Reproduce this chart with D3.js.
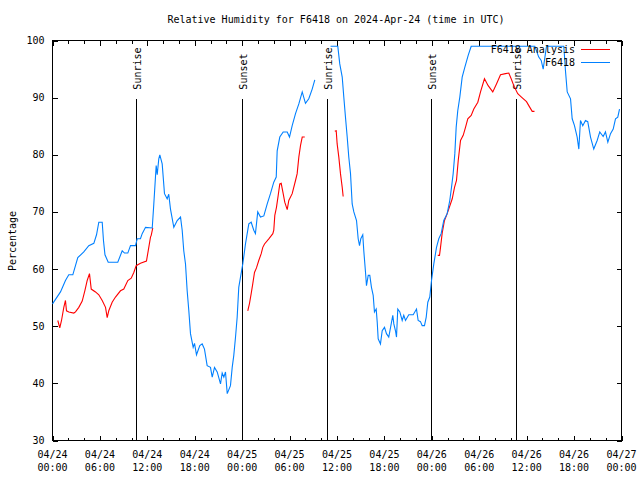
<!DOCTYPE html>
<html><head><meta charset="utf-8">
<script src="https://cdn.jsdelivr.net/npm/d3@7"></script>
<style>
body{margin:0;background:#fff}
svg text{font-family:"DejaVu Sans Mono",monospace;font-size:10px;fill:#000}
</style></head>
<body><svg id="c" width="640" height="480"></svg>
<script>
// ---- data (hours after 2024-04-24 00:00 UTC) ----
const titleText = "Relative Humidity for F6418 on 2024-Apr-24 (time in UTC)";
const yLabel = "Percentage";
const seriesNames = ["F6418 Analysis", "F6418"];
const yTicks = [30, 40, 50, 60, 70, 80, 90, 100];

const obsHours = [0.0,1.01,1.64,2.06,2.57,3.2,3.96,4.59,5.23,5.57,5.86,6.29,6.45,6.64,7.05,8.26,8.82,9.11,9.53,9.87,10.5,10.72,11.13,11.35,11.77,12.62,12.82,13.03,13.12,13.25,13.45,13.58,13.88,14.17,14.51,14.71,14.93,15.35,15.78,16.2,16.41,16.61,16.83,17.04,17.25,17.46,17.8,17.97,18.22,18.64,18.94,19.23,19.57,19.99,20.21,20.5,20.84,21.26,21.47,21.68,21.89,22.11,22.52,22.74,22.94,23.16,23.37,23.57,23.79,24.08,24.42,24.84,25.14,25.47,25.68,25.97,26.32,26.74,27.17,27.58,28.0,28.31,28.43,28.76,29.19,29.7,29.99,30.33,30.75,31.17,31.6,32.01,32.43,32.86,33.19,
  34.2,
  35.18,36.1,36.35,36.66,36.86,37.07,37.29,37.49,37.71,37.92,38.13,38.47,38.68,38.85,39.01,39.26,39.39,39.61,39.73,39.95,40.15,40.36,40.58,40.74,40.96,41.09,41.21,41.5,41.72,42.01,42.26,42.55,42.86,43.06,43.19,43.4,43.53,43.69,43.95,44.25,44.45,44.67,45.08,45.64,46.06,46.27,46.56,46.78,47.07,47.29,47.49,47.74,47.96,48.25,48.59,48.88,49.18,49.51,49.94,50.27,50.49,50.7,50.91,51.08,51.28,51.54,51.84,52.17,52.6,52.98,61.03,61.53,61.84,62.09,62.51,64.7,64.91,65.13,65.55,65.76,66.05,66.39,66.6,66.81,67.1,67.44,67.73,68.08,68.49,68.92,69.25,69.68,69.97,70.27,70.61,70.95,71.24,71.53,71.75];
const obsValues = [53.9,56,58,59,59,62,63,64.1,64.5,66,68.2,68.2,65,62.5,61.2,61.2,63.2,62.8,62.8,64.1,64.1,65.3,65.3,66.2,67.3,67.2,71.4,76.1,78.1,76.5,79.3,80,78.4,73.2,72.3,73.1,70.5,67.3,68.5,69.1,66.8,63.2,60.9,56.2,52.7,48.7,46.3,47,45,46.6,46.9,46,43.1,42.8,41.1,42.8,42,39.9,41.8,41.1,42,38.2,39.6,42.8,44.9,48.1,51.6,56.8,58.6,60.9,64.4,67.9,68.2,66.8,66.2,70,69.1,69.3,71.4,73.2,75.2,76.1,80.7,83.1,84,84,83.1,85.1,87.2,88.9,91,89,89.8,91.5,93.1,
  null,
  99,99,95.9,93.6,90.1,86.6,83.1,79.6,76.7,71.4,70,68.5,65.3,64.1,65.3,66,63.2,59.4,57.1,58.9,58.9,56.8,55.4,52.5,53,50.7,47.8,46.9,49.2,49.8,48.7,48.1,50.4,51.9,50.4,49.2,48.1,53,52.5,51,51.9,51,52,52,53,51,50.8,50.1,50.1,51.6,54.2,55.1,58,60.9,63.8,65.3,66.2,68.5,69.7,72,74.3,76.7,80.2,84.8,87.7,90.1,93.6,95.3,97.4,99,99,97.1,96.5,95,99,99,94.7,91,89.8,86.3,85.1,83.1,81,86,85.1,86,85.8,83.1,81,82.5,84,83.2,84,82.2,83.7,84.5,86.3,86.6,88];

const anaHours = [0.67,0.92,1.14,1.43,1.64,1.77,2.06,2.7,2.91,3.33,3.76,4.09,4.39,4.68,4.9,5.44,5.86,6.29,6.71,6.92,7.12,7.55,7.97,8.6,9.02,9.53,9.96,10.29,10.59,11.13,11.89,12.11,12.4,12.49,12.69,
  18.0,
  24.71,24.93,25.14,25.34,25.56,25.81,26.1,26.41,26.61,26.83,27.37,27.88,28.0,28.13,28.34,28.56,28.76,28.94,29.19,29.39,29.7,29.9,30.33,30.75,30.96,31.17,31.38,31.6,31.92,
  34.0,
  35.72,35.9,36.02,36.23,36.44,36.66,36.78,
  42.0,
  48.75,48.97,49.1,49.31,49.6,49.86,50.14,50.58,50.87,51.12,51.34,51.63,51.97,52.26,52.55,52.98,53.31,53.82,54.16,54.66,55.13,55.71,56.18,56.69,57.32,57.74,58.04,58.37,58.87,59.34,59.98,60.27,60.7,60.99];
const anaValues = [51,49.7,51,53.3,54.5,52.7,52.5,52.3,52.5,53.3,54.4,56.2,58,59.2,56.5,56,55.5,54.5,53.3,51.5,52.7,54.2,55.1,56.2,56.5,58,58.4,59.4,60.6,61,61.4,63.2,65.6,65.9,67.2,
  null,
  52.7,54,55.7,57.4,59.4,60.2,61.5,62.7,63.8,64.4,65.3,66.2,66.8,69.4,70.8,72.9,74.9,75,73.2,71.7,70.4,72,73.2,75.5,76.7,79.6,81.6,83.1,83.1,
  null,
  84.1,84.2,81.9,79.6,76.7,74.3,72.7,
  null,
  62.4,62.4,63.8,66.3,68.5,69.4,70.5,72.3,74.3,75.5,79,82.5,83.4,84.8,86.3,86.9,88,89.2,91,93.3,92.1,91,92.4,94,94.2,94.3,93.3,92.1,90.7,90.1,89.3,88.6,87.6,87.6];

const eventLabels = ["Sunrise","Sunset","Sunrise","Sunset","Sunrise"];
const eventHours = [10.67, 24.08, 34.76, 48.0, 58.67];

// ---- chart ----
const H = 3600e3;
const t0 = Date.UTC(2024, 3, 24, 0, 0);
const toDate = h => new Date(t0 + h * H);

const svg = d3.select("#c");
const x = d3.scaleUtc().domain([toDate(0), toDate(72)]).range([52.5, 621.5]);
const y = d3.scaleLinear().domain([30, 100]).range([440.5, 40.5]);

const g = svg.append("g").attr("shape-rendering", "crispEdges");

const minorVals = d3.utcHour.every(2).range(toDate(0), toDate(72.01));
const majorVals = d3.utcHour.every(6).range(toDate(0), toDate(72.01));

function cleanAxis(sel){ sel.select(".domain").remove(); sel.selectAll(".tick line").attr("stroke","#000"); sel.selectAll(".tick text").remove(); }

g.append("g").attr("transform","translate(0,440.5)")
  .call(d3.axisBottom(x).tickValues(minorVals).tickSize(-3).tickFormat("")).call(cleanAxis);
g.append("g").attr("transform","translate(0,40.5)")
  .call(d3.axisTop(x).tickValues(minorVals).tickSize(-3).tickFormat("")).call(cleanAxis);
g.append("g").attr("transform","translate(0,440.5)")
  .call(d3.axisBottom(x).tickValues(majorVals).tickSize(-5).tickFormat("")).call(cleanAxis);
g.append("g").attr("transform","translate(0,40.5)")
  .call(d3.axisTop(x).tickValues(majorVals).tickSize(-5).tickFormat("")).call(cleanAxis);
g.append("g").attr("transform","translate(52.5,0)")
  .call(d3.axisLeft(y).tickValues(yTicks).tickSize(-5).tickFormat("")).call(cleanAxis);
g.append("g").attr("transform","translate(621.5,0)")
  .call(d3.axisRight(y).tickValues(yTicks).tickSize(-5).tickFormat("")).call(cleanAxis);

// y tick labels
svg.append("g").selectAll("text").data(yTicks).join("text")
  .attr("x", 44.5).attr("y", d => y(d)).attr("dy", "0.35em")
  .attr("text-anchor", "end").text(d => d);

// x tick labels
const fmtD = d3.utcFormat("%m/%d"), fmtT = d3.utcFormat("%H:%M");
const xl = svg.append("g").selectAll("text").data(majorVals).join("text")
  .attr("text-anchor", "middle");
xl.append("tspan").attr("x", d => x(d)).attr("y", 457.5).text(fmtD);
xl.append("tspan").attr("x", d => x(d)).attr("y", 470.5).text(fmtT);

// frame
g.append("rect").attr("x", 52.5).attr("y", 40.5).attr("width", 569).attr("height", 400)
  .attr("fill", "none").attr("stroke", "#000");

// sunrise / sunset markers
const ev = svg.append("g");
eventHours.forEach((h, i) => {
  const xx = Math.floor(x(toDate(h))) + 0.5;
  ev.append("line").attr("x1", xx).attr("x2", xx).attr("y1", y(89.8)).attr("y2", y(30))
    .attr("stroke", "#000").attr("shape-rendering","crispEdges");
  ev.append("text").attr("transform", `translate(${xx + 1},${y(91.4)}) rotate(-90)`)
    .attr("dy", "0.35em").attr("text-anchor", "start").text(eventLabels[i]);
});

// series
const line = d3.line().defined(d => d[1] != null).x(d => x(toDate(d[0]))).y(d => y(d[1]));
const obs = obsHours.map((h, i) => [h, obsValues[i]]);
const ana = anaHours.map((h, i) => [h, anaValues[i]]);
svg.append("path").datum(ana).attr("d", line).attr("fill","none").attr("stroke","#ff0000").attr("stroke-width",1.1);
svg.append("path").datum(obs).attr("d", line).attr("fill","none").attr("stroke","#0080ff").attr("stroke-width",1.1);

// legend
const colors = ["#ff0000", "#0080ff"];
seriesNames.forEach((n, i) => {
  const yy = 49.5 + i * 13;
  svg.append("text").attr("x", 575).attr("y", yy).attr("dy", "0.35em").attr("text-anchor", "end").text(n);
  svg.append("line").attr("x1", 581).attr("x2", 610).attr("y1", yy).attr("y2", yy)
    .attr("stroke", colors[i]).attr("stroke-width", 1.1).attr("shape-rendering","crispEdges");
});

// title & y label
svg.append("text").attr("x", 336).attr("y", 23).attr("text-anchor", "middle").text(titleText);
svg.append("text").attr("transform", "translate(12,241) rotate(-90)").attr("dy", "0.35em")
  .attr("text-anchor", "middle").text(yLabel);
</script></body></html>
